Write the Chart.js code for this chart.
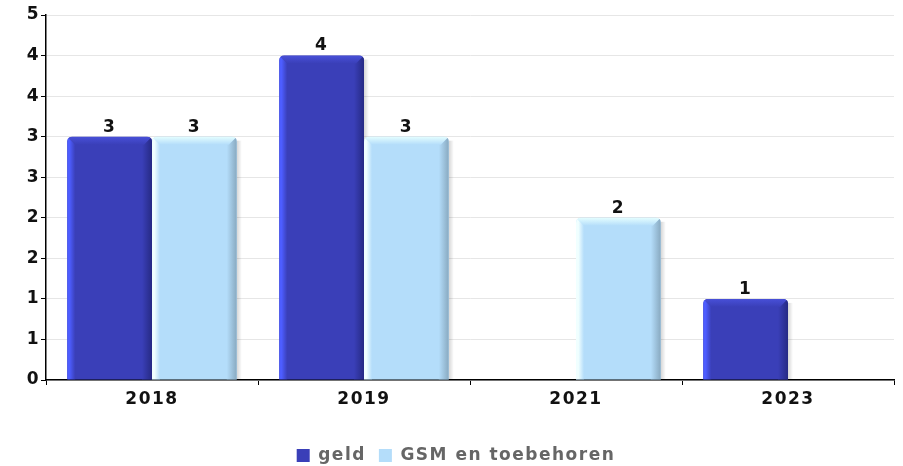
<!DOCTYPE html>
<html>
<head>
<meta charset="utf-8">
<script src="https://cdn.jsdelivr.net/npm/chart.js@4/dist/chart.umd.min.js"></script>
<style>
  html, body { margin: 0; padding: 0; background: #ffffff; }
  #wrap { width: 903px; height: 466px; position: relative; }
</style>
</head>
<body>
<div id="wrap"><canvas id="chart"></canvas></div>
<script>
// Categories and series
const categories = ['2018', '2019', '2021', '2023'];
const geldValues = [3, 4, null, 1];
const gsmValues = [3, 3, 2, null];
const seriesNames = ['geld', 'GSM en toebehoren'];

// Base colours and bevel shades for each series
const palette = [
  { base: '#3a3fb8', light: '#4d5dff', dark: '#262a84', top: '#4850d8' },
  { base: '#b4ddfa', light: '#f0ffff', dark: '#88a9c0', top: '#e4feff' }
];

const FONT = '"DejaVu Sans", sans-serif';

// Wider letter spacing for all canvas text
const spacing = {
  id: 'spacing',
  beforeLayout(chart) { chart.ctx.letterSpacing = '1.5px'; },
  beforeDraw(chart) { chart.ctx.letterSpacing = '1.5px'; }
};

// Bevel / shading on top of each bar to give it a raised look
const bevelPlugin = {
  id: 'bevel',
  afterDatasetsDraw(chart) {
    const ctx = chart.ctx;
    chart.data.datasets.forEach((ds, di) => {
      const meta = chart.getDatasetMeta(di);
      const c = palette[di];
      meta.data.forEach((bar, i) => {
        if (ds.data[i] == null) return;
        const { x, y, base, width } = bar.getProps(['x', 'y', 'base', 'width'], true);
        const l = x - width / 2, r = x + width / 2, h = base - y;
        ctx.save();
        // soft shadow to the right
        let g = ctx.createLinearGradient(r, 0, r + 5, 0);
        g.addColorStop(0, 'rgba(0,0,0,0.16)');
        g.addColorStop(1, 'rgba(0,0,0,0)');
        ctx.fillStyle = g;
        ctx.fillRect(r, y + 4, 5, h - 4);
        // clip to the bar shape
        ctx.beginPath();
        const rad = 5;
        ctx.moveTo(l, base);
        ctx.lineTo(l, y + rad);
        ctx.quadraticCurveTo(l, y, l + rad, y);
        ctx.lineTo(r - rad, y);
        ctx.quadraticCurveTo(r, y, r, y + rad);
        ctx.lineTo(r, base);
        ctx.closePath();
        ctx.clip();
        // top bevel
        ctx.beginPath();
        ctx.moveTo(l, y);
        ctx.lineTo(r, y);
        ctx.lineTo(r - 8, y + 8);
        ctx.lineTo(l + 8, y + 8);
        ctx.closePath();
        g = ctx.createLinearGradient(0, y, 0, y + 8);
        g.addColorStop(0, c.top);
        g.addColorStop(1, c.base);
        ctx.fillStyle = g;
        ctx.fill();
        // left highlight
        ctx.beginPath();
        ctx.moveTo(l, y);
        ctx.lineTo(l + 8, y + 8);
        ctx.lineTo(l + 8, base);
        ctx.lineTo(l, base);
        ctx.closePath();
        g = ctx.createLinearGradient(l, 0, l + 8, 0);
        g.addColorStop(0, c.light);
        g.addColorStop(0.3, c.light);
        g.addColorStop(1, c.base);
        ctx.fillStyle = g;
        ctx.fill();
        // right shade
        ctx.beginPath();
        ctx.moveTo(r, y);
        ctx.lineTo(r, base);
        ctx.lineTo(r - 10, base);
        ctx.lineTo(r - 10, y + 8);
        ctx.lineTo(r - 8, y + 8);
        ctx.closePath();
        g = ctx.createLinearGradient(r - 10, 0, r, 0);
        g.addColorStop(0, c.base);
        g.addColorStop(1, c.dark);
        ctx.fillStyle = g;
        ctx.fill();
        ctx.restore();
      });
    });
  }
};

// Value labels above the bars
const valueLabels = {
  id: 'valueLabels',
  afterDatasetsDraw(chart) {
    const ctx = chart.ctx;
    ctx.save();
    ctx.font = 'bold 17px ' + FONT;
    ctx.fillStyle = '#111111';
    ctx.textAlign = 'center';
    ctx.textBaseline = 'bottom';
    chart.data.datasets.forEach((ds, di) => {
      const meta = chart.getDatasetMeta(di);
      meta.data.forEach((bar, i) => {
        const v = ds.data[i];
        if (v == null) return;
        ctx.fillText(String(v), bar.x, bar.y - 1);
      });
    });
    ctx.restore();
  }
};

new Chart(document.getElementById('chart'), {
  type: 'bar',
  data: {
    labels: categories,
    datasets: [
      { label: seriesNames[0], data: geldValues, backgroundColor: palette[0].base,
        borderRadius: { topLeft: 5, topRight: 5 }, borderSkipped: 'bottom' },
      { label: seriesNames[1], data: gsmValues, backgroundColor: palette[1].base,
        borderRadius: { topLeft: 5, topRight: 5 }, borderSkipped: 'bottom' }
    ]
  },
  options: {
    responsive: true,
    maintainAspectRatio: false,
    animation: false,
    layout: { padding: { top: 15, right: 9, left: 18, bottom: -8 } },
    datasets: { bar: { categoryPercentage: 0.8, barPercentage: 1.0 } },
    plugins: {
      tooltip: { enabled: false },
      legend: {
        position: 'bottom',
        labels: {
          font: { family: FONT, size: 17, weight: 'bold' },
          color: '#666666',
          boxWidth: 13,
          boxHeight: 13,
          padding: 13
        }
      }
    },
    scales: {
      x: {
        grid: { display: true, drawOnChartArea: false, offset: true, color: '#000000', tickLength: 5 },
        border: { color: '#000000', width: 1.5 },
        ticks: { font: { family: FONT, size: 17, weight: 'bold' }, color: '#111111', padding: 4 },
        afterFit(scale) { scale.height = 54; }
      },
      y: {
        min: 0,
        max: 4.5,
        ticks: {
          stepSize: 0.5,
          font: { family: FONT, size: 17, weight: 'bold' },
          color: '#111111',
          padding: 1,
          callback: (v) => Math.round(v)
        },
        grid: { color: '#e6e6e6', lineWidth: 1, tickColor: '#000000', tickLength: 5 },
        border: { color: '#000000', width: 1.5 },
        afterFit(scale) { scale.width = 28; }
      }
    }
  },
  plugins: [spacing, bevelPlugin, valueLabels]
});
</script>
</body>
</html>
